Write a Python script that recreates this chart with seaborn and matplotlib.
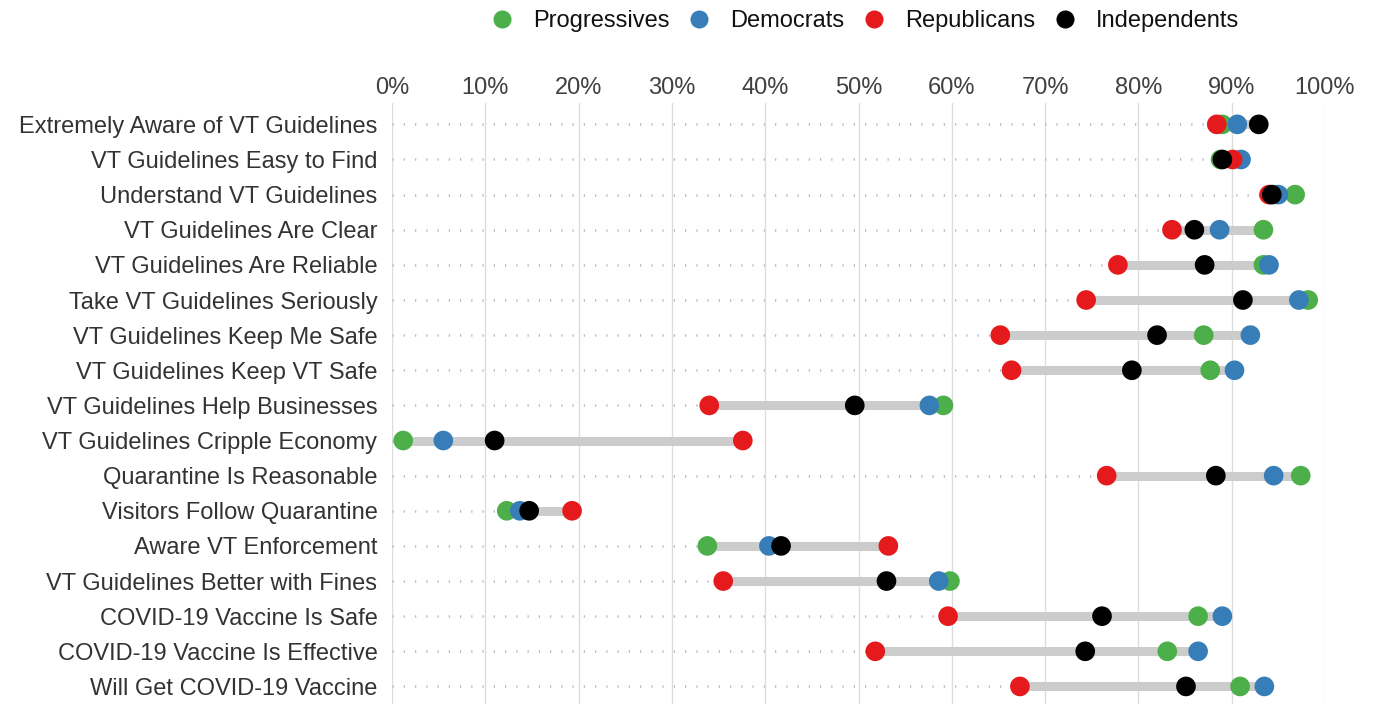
import matplotlib
matplotlib.use("Agg")
import matplotlib.pyplot as plt
from matplotlib.lines import Line2D
import pandas as pd
import seaborn as sns

questions = [
    "Extremely Aware of VT Guidelines",
    "VT Guidelines Easy to Find",
    "Understand VT Guidelines",
    "VT Guidelines Are Clear",
    "VT Guidelines Are Reliable",
    "Take VT Guidelines Seriously",
    "VT Guidelines Keep Me Safe",
    "VT Guidelines Keep VT Safe",
    "VT Guidelines Help Businesses",
    "VT Guidelines Cripple Economy",
    "Quarantine Is Reasonable",
    "Visitors Follow Quarantine",
    "Aware VT Enforcement",
    "VT Guidelines Better with Fines",
    "COVID-19 Vaccine Is Safe",
    "COVID-19 Vaccine Is Effective",
    "Will Get COVID-19 Vaccine",
]

progressives = [89.0, 88.8, 96.8, 93.4, 93.4, 98.2, 87.0, 87.7, 59.1, 1.2, 97.4, 12.3, 33.8, 59.8, 86.4, 83.1, 90.9]
democrats = [90.6, 91.0, 95.0, 88.7, 94.0, 97.2, 92.0, 90.3, 57.6, 5.5, 94.5, 13.7, 40.4, 58.6, 89.0, 86.4, 93.5]
republicans = [88.4, 90.1, 94.0, 83.6, 77.8, 74.4, 65.2, 66.4, 34.0, 37.6, 76.6, 19.3, 53.2, 35.5, 59.6, 51.8, 67.3]
independents = [92.9, 89.0, 94.3, 86.0, 87.1, 91.2, 82.0, 79.3, 49.6, 11.0, 88.3, 14.7, 41.7, 53.0, 76.1, 74.3, 85.1]

groups = ["Progressives", "Democrats", "Republicans", "Independents"]
colors = ["#4daf4a", "#377eb8", "#e41a1c", "#000000"]

rows = []
for g, vals in zip(groups, [progressives, democrats, republicans, independents]):
    for i, v in enumerate(vals):
        rows.append({"group": g, "pos": i, "value": v})
df = pd.DataFrame(rows)

sns.set_theme(style="white")
plt.rcParams["font.family"] = ["Liberation Sans", "DejaVu Sans"]

fig = plt.figure(figsize=(13.73, 7.04), dpi=100)
ax = fig.add_axes([392 / 1373, 0.0, 933 / 1373, 0.8533])

# vertical grid
for t in range(0, 101, 10):
    ax.axvline(t, color="#dddddd", lw=1, zorder=0)

# range bars and dotted leaders
span = df.groupby("pos")["value"].agg(["min", "max"])
ax.hlines(span.index, 0, span["min"], colors="#bbbbbb", lw=1.8,
          linestyles=(0, (0.5, 4.0)), zorder=1)
ax.hlines(span.index, span["min"], span["max"], colors="#cccccc", lw=6.5, zorder=2)

sns.scatterplot(data=df, x="value", y="pos", hue="group", hue_order=groups,
                palette=colors, s=200, linewidth=0, legend=False, ax=ax,
                zorder=3, clip_on=False)

ax.set_xlim(0, 100)
ax.set_ylim(16.5, -0.6)
ax.xaxis.tick_top()
ax.set_xticks(range(0, 101, 10))
ax.set_xticklabels([f"{t}%" for t in range(0, 101, 10)], fontsize=17, color="#404040")
ax.set_yticks(range(len(questions)))
ax.set_yticklabels(questions, fontsize=17, color="#333333")
ax.tick_params(axis="both", length=0)
ax.tick_params(axis="x", pad=3)
ax.tick_params(axis="y", pad=10.5)
ax.set_xlabel("")
ax.set_ylabel("")
for s in ax.spines.values():
    s.set_visible(False)

handles = [Line2D([], [], marker="o", ls="none", color=c, markersize=13, markeredgewidth=0)
           for c in colors]
fig.legend(handles, groups, ncol=4, loc="upper center", bbox_to_anchor=(0.629, 1.016),
           frameon=False, fontsize=17, handletextpad=0.72, columnspacing=0.64,
           handlelength=1.2, labelcolor="#111111")

fig.savefig("out.png", dpi=100)
